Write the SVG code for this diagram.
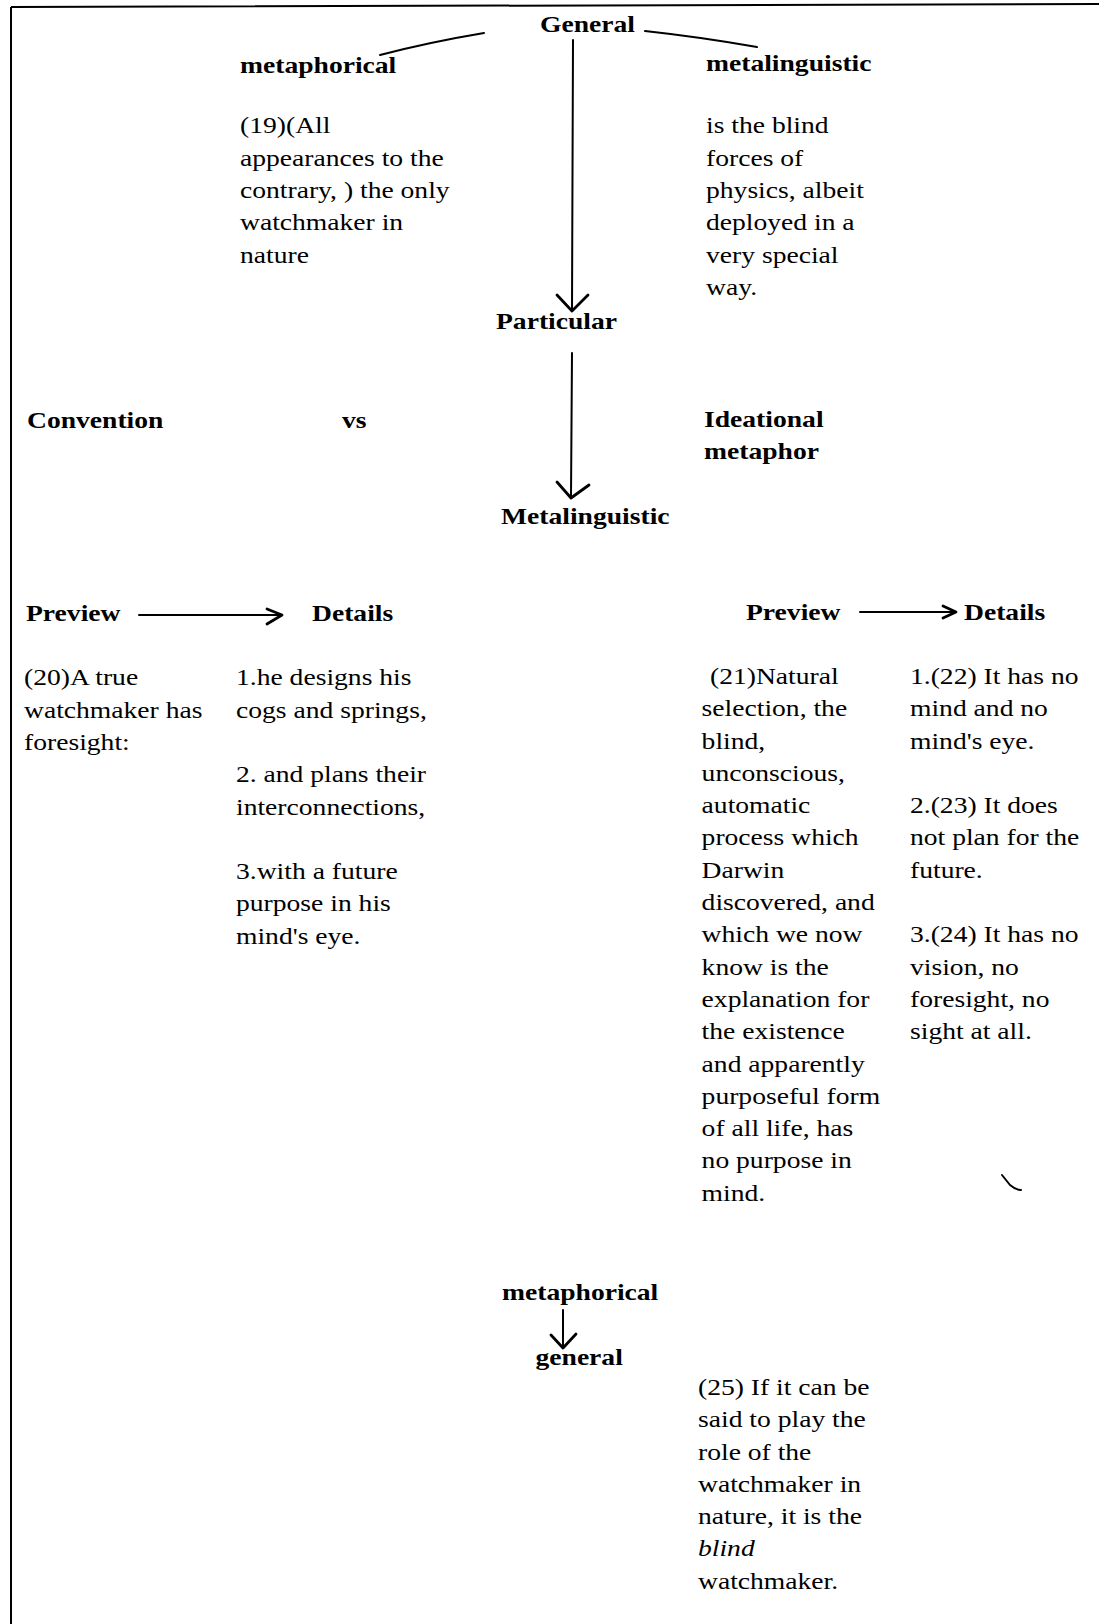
<svg xmlns="http://www.w3.org/2000/svg" width="1099" height="1624" viewBox="0 0 1099 1624">
<style>
text{font-family:"Liberation Serif","Times New Roman",serif;font-size:23px;fill:#000}
.b{font-weight:bold}
.i{font-style:italic}
.ln{fill:none;stroke:#000;stroke-width:2;stroke-linecap:round;stroke-linejoin:round}
.hd{fill:none;stroke:#000;stroke-width:2.8;stroke-linecap:round;stroke-linejoin:round}
.frame{fill:none;stroke:#000;stroke-width:2}
</style>
<rect width="1099" height="1624" fill="#fff"/>
<g id="frame">
<path class="frame" d="M11 7 L1099 4 M11 7 L11 1624"/>
</g>
<g id="connectors">
<path class="ln" d="M484 33 Q430 42 380 55"/>
<path class="ln" d="M645 31 Q700 37 757 47"/>
<path class="ln" d="M573 40 L572 309"/>
<polyline class="hd" points="557,295 572,311 588,295"/>
<path class="ln" d="M572 353 L571 496"/>
<polyline class="hd" points="557,482 571,498 589,485"/>
<path class="ln" d="M139 615 L281 615"/>
<polyline class="hd" points="267,609 282,615 267,624"/>
<path class="ln" d="M860 612 L955 612"/>
<polyline class="hd" points="943,606 956,612 943,618"/>
<path class="ln" d="M563 1310 L563 1346"/>
<polyline class="hd" points="551,1335 563,1348 576,1334"/>
</g>
<g id="n-general"><text class="b" transform="translate(540 32) scale(1.2 1)">General</text></g>
<g id="n-metaphorical-top"><text class="b" transform="translate(240 73) scale(1.2 1)">metaphorical</text></g>
<g id="n-metalinguistic-top"><text class="b" transform="translate(706 71) scale(1.2 1)">metalinguistic</text></g>
<g id="n-19"><text transform="translate(240 133.4) scale(1.2 1)"><tspan x="0" y="0">(19)(All</tspan><tspan x="0" y="32.3">appearances to the</tspan><tspan x="0" y="64.6">contrary, ) the only</tspan><tspan x="0" y="96.9">watchmaker in</tspan><tspan x="0" y="129.2">nature</tspan></text></g>
<g id="n-blindforces"><text transform="translate(706 133.4) scale(1.2 1)"><tspan x="0" y="0">is the blind</tspan><tspan x="0" y="32.3">forces of</tspan><tspan x="0" y="64.6">physics, albeit</tspan><tspan x="0" y="96.9">deployed in a</tspan><tspan x="0" y="129.2">very special</tspan><tspan x="0" y="161.5">way.</tspan></text></g>
<g id="n-particular"><text class="b" transform="translate(496 329) scale(1.2 1)">Particular</text></g>
<g id="n-convention"><text class="b" transform="translate(27 427.5) scale(1.2 1)">Convention</text></g>
<g id="n-vs"><text class="b" transform="translate(342 427.5) scale(1.2 1)">vs</text></g>
<g id="n-ideational"><text class="b" transform="translate(704 426.5) scale(1.2 1)"><tspan x="0" y="0">Ideational</tspan><tspan x="0" y="32.1">metaphor</tspan></text></g>
<g id="n-metalinguistic"><text class="b" transform="translate(501 523.5) scale(1.2 1)">Metalinguistic</text></g>
<g id="n-preview-left"><text class="b" transform="translate(26 621) scale(1.2 1)">Preview</text></g>
<g id="n-details-left"><text class="b" transform="translate(312 620.5) scale(1.2 1)">Details</text></g>
<g id="n-20"><text transform="translate(24 685.4) scale(1.2 1)"><tspan x="0" y="0">(20)A true</tspan><tspan x="0" y="32.3">watchmaker has</tspan><tspan x="0" y="64.6">foresight:</tspan></text></g>
<g id="n-details-left-list"><text transform="translate(236 685.4) scale(1.2 1)"><tspan x="0" y="0">1.he designs his</tspan><tspan x="0" y="32.3">cogs and springs,</tspan><tspan x="0" y="96.9">2. and plans their</tspan><tspan x="0" y="129.2">interconnections,</tspan><tspan x="0" y="193.8">3.with a future</tspan><tspan x="0" y="226.1">purpose in his</tspan><tspan x="0" y="258.4">mind's eye.</tspan></text></g>
<g id="n-preview-right"><text class="b" transform="translate(746 620) scale(1.2 1)">Preview</text></g>
<g id="n-details-right"><text class="b" transform="translate(964 620) scale(1.2 1)">Details</text></g>
<g id="n-21"><text transform="translate(701.6 684) scale(1.2 1)"><tspan x="7" y="0">(21)Natural</tspan><tspan x="0" y="32.3">selection, the</tspan><tspan x="0" y="64.6">blind,</tspan><tspan x="0" y="96.9">unconscious,</tspan><tspan x="0" y="129.2">automatic</tspan><tspan x="0" y="161.5">process which</tspan><tspan x="0" y="193.8">Darwin</tspan><tspan x="0" y="226.1">discovered, and</tspan><tspan x="0" y="258.4">which we now</tspan><tspan x="0" y="290.7">know is the</tspan><tspan x="0" y="323">explanation for</tspan><tspan x="0" y="355.3">the existence</tspan><tspan x="0" y="387.6">and apparently</tspan><tspan x="0" y="419.9">purposeful form</tspan><tspan x="0" y="452.2">of all life, has</tspan><tspan x="0" y="484.5">no purpose in</tspan><tspan x="0" y="516.8">mind.</tspan></text></g>
<g id="n-details-right-list"><text transform="translate(910 684) scale(1.2 1)"><tspan x="0" y="0">1.(22) It has no</tspan><tspan x="0" y="32.3">mind and no</tspan><tspan x="0" y="64.6">mind's eye.</tspan><tspan x="0" y="129.2">2.(23) It does</tspan><tspan x="0" y="161.5">not plan for the</tspan><tspan x="0" y="193.8">future.</tspan><tspan x="0" y="258.4">3.(24) It has no</tspan><tspan x="0" y="290.7">vision, no</tspan><tspan x="0" y="323">foresight, no</tspan><tspan x="0" y="355.3">sight at all.</tspan></text></g>
<g id="mark"><path d="M1002 1175 L1010 1185 M1010 1185 Q1016 1190 1021 1190" fill="none" stroke="#000" stroke-width="2" stroke-linecap="round"/></g>
<g id="n-metaphorical-bottom"><text class="b" transform="translate(502 1300) scale(1.2 1)">metaphorical</text></g>
<g id="n-general-bottom"><text class="b" transform="translate(535.5 1365) scale(1.2 1)">general</text></g>
<g id="n-25"><text transform="translate(698 1395) scale(1.2 1)"><tspan x="0" y="0">(25) If it can be</tspan><tspan x="0" y="32.3">said to play the</tspan><tspan x="0" y="64.6">role of the</tspan><tspan x="0" y="96.9">watchmaker in</tspan><tspan x="0" y="129.2">nature, it is the</tspan><tspan x="0" y="161.5" class="i">blind</tspan><tspan x="0" y="193.8">watchmaker.</tspan></text></g>
</svg>
